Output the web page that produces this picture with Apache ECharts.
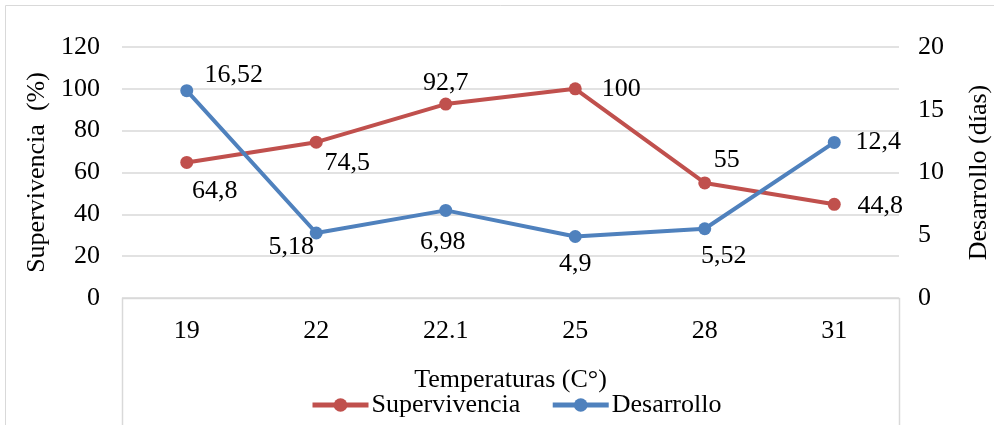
<!DOCTYPE html>
<html><head><meta charset="utf-8">
<script src="https://cdn.jsdelivr.net/npm/echarts@6/dist/echarts.min.js"></script>
<style>html,body{margin:0;padding:0;background:#fff}#c{width:994px;height:425px}</style>
</head><body><div id="c"></div>
<script>
var categories = ['19', '22', '22.1', '25', '28', '31'];
var supervivencia = [64.8, 74.5, 92.7, 100, 55, 44.8];
var desarrollo = [16.52, 5.18, 6.98, 4.9, 5.52, 12.4];
var leftTicks = {min: 0, max: 120, interval: 20};
var rightTicks = {min: 0, max: 20, interval: 5};

var FONT = '"Liberation Serif","Times New Roman",serif';
var FS = 26;
var supOffsets = [[28, 29], [31, 21], [0, -21], [46, 0], [22, -23], [46, 2]];
var desOffsets = [[47, -16], [-25, 14], [-3, 32], [0, 28], [19, 27], [44, 0]];
function fmt(v) { return String(v).replace('.', ','); }
function build(vals, offs) {
  return vals.map(function (v, i) {
    return {value: v, label: {show: true, position: 'inside', offset: offs[i],
      formatter: fmt(v), color: '#000', fontFamily: FONT, fontSize: FS}};
  });
}
var chart = echarts.init(document.getElementById('c'));
var G = {left: 122, right: 95, top: 47, bottom: 127, containLabel: false, outerBoundsMode: 'none'};
chart.setOption({
  animation: false,
  textStyle: {fontFamily: FONT},
  graphic: [
    {type: 'rect', shape: {x: 5.5, y: 5.5, width: 1000, height: 430}, style: {fill: 'none', stroke: '#d9d9d9', lineWidth: 1}, z: -1},
    {type: 'polyline', shape: {points: [[G.left + 0.5, 430], [G.left + 0.5, 298.5], [994 - G.right + 0.5, 298.5], [994 - G.right + 0.5, 430]]}, style: {fill: 'none', stroke: '#d9d9d9', lineWidth: 1.5}, z: 1}
  ],
  grid: G,
  legend: {
    bottom: 2, left: 305, itemWidth: 56, itemHeight: 17, itemGap: 30,
    lineStyle: {width: 5},
    textStyle: {fontFamily: FONT, fontSize: FS, color: '#000', padding: [0, 0, 0, -2]},
    data: [
      {name: 'Supervivencia', lineStyle: {width: 5, color: '#C0504D'}},
      {name: 'Desarrollo', lineStyle: {width: 5, color: '#4F81BD'}}
    ]
  },
  xAxis: {
    type: 'category', data: categories,
    name: 'Temperaturas (C°)', nameLocation: 'middle', nameGap: 69,
    nameTextStyle: {fontFamily: FONT, fontSize: FS, color: '#000'},
    axisLine: {show: false}, axisTick: {show: false},
    axisLabel: {margin: 20, fontFamily: FONT, fontSize: FS, color: '#000'}
  },
  yAxis: [
    {type: 'value', min: leftTicks.min, max: leftTicks.max, interval: leftTicks.interval,
      name: 'Supervivencia  (%)', nameLocation: 'middle', nameGap: 65, nameRotate: 90,
      nameTextStyle: {fontFamily: FONT, fontSize: FS, color: '#000'},
      axisLine: {show: false}, axisTick: {show: false},
      axisLabel: {margin: 22, fontFamily: FONT, fontSize: FS, color: '#000'},
      splitLine: {lineStyle: {color: '#d9d9d9', width: 1.5}}},
    {type: 'value', min: rightTicks.min, max: rightTicks.max, interval: rightTicks.interval,
      name: 'Desarrollo (días)', nameLocation: 'middle', nameGap: 67, nameRotate: 90,
      nameTextStyle: {fontFamily: FONT, fontSize: FS, color: '#000'},
      axisLine: {show: false}, axisTick: {show: false},
      axisLabel: {margin: 19, fontFamily: FONT, fontSize: FS, color: '#000'},
      splitLine: {show: false}}
  ],
  series: [
    {name: 'Supervivencia', type: 'line', yAxisIndex: 0, data: build(supervivencia, supOffsets),
      color: '#C0504D', lineStyle: {width: 4, color: '#C0504D'}, symbol: 'circle', symbolSize: 13,
      itemStyle: {color: '#C0504D'}},
    {name: 'Desarrollo', type: 'line', yAxisIndex: 1, data: build(desarrollo, desOffsets),
      color: '#4F81BD', lineStyle: {width: 4, color: '#4F81BD'}, symbol: 'circle', symbolSize: 13,
      itemStyle: {color: '#4F81BD'}}
  ]
});
</script></body></html>
